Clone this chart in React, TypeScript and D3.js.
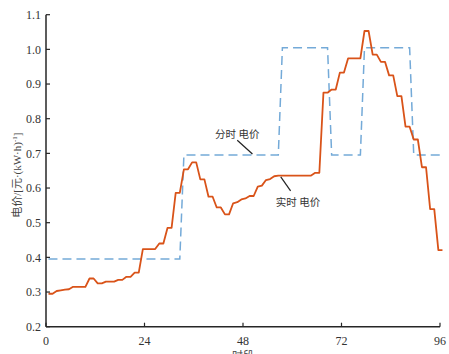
import React from "react";
import * as d3 from "d3";

// 97 time slots, drawn at slot + 0.6 on the axis
const slotOffset = 0.6;

// real-time price, one value per slot
const realPrice = [
  0.295, 0.295, 0.303, 0.305, 0.307, 0.308, 0.315, 0.315, 0.315, 0.315,
  0.339, 0.339, 0.325, 0.325, 0.33, 0.33, 0.33, 0.335, 0.335, 0.344,
  0.344, 0.356, 0.356, 0.424, 0.424, 0.424, 0.424, 0.44, 0.44, 0.485,
  0.485, 0.586, 0.586, 0.654, 0.654, 0.674, 0.674, 0.625, 0.625, 0.575,
  0.575, 0.544, 0.544, 0.524, 0.524, 0.556, 0.559, 0.567, 0.57, 0.577,
  0.577, 0.604, 0.607, 0.623, 0.626, 0.634, 0.636, 0.636, 0.636, 0.636,
  0.636, 0.636, 0.636, 0.636, 0.636, 0.644, 0.644, 0.875, 0.875, 0.884,
  0.884, 0.933, 0.933, 0.974, 0.974, 0.974, 0.974, 1.053, 1.053, 0.985,
  0.985, 0.964, 0.964, 0.925, 0.925, 0.865, 0.865, 0.777, 0.777, 0.74,
  0.74, 0.66, 0.66, 0.539, 0.539, 0.421, 0.421,
];

// time-of-use price bands: [first slot, last slot, price]
const touBands: [number, number, number][] = [
  [0, 32, 0.395],
  [33, 56, 0.695],
  [57, 68, 1.005],
  [69, 76, 0.695],
  [77, 88, 1.005],
  [89, 96, 0.695],
];
const touPrice = realPrice.map((_, i) => {
  const b = touBands.find((d) => i >= d[0] && i <= d[1]);
  return b ? b[2] : 0.695;
});

const xTicks = [0, 24, 48, 72, 96];
const yTicks = [0.2, 0.3, 0.4, 0.5, 0.6, 0.7, 0.8, 0.9, 1.0, 1.1];

const W = 449;
const H = 354;
const serif = "'Liberation Serif', 'Times New Roman', Times, serif";
const cjk = "'Noto Sans CJK SC', sans-serif";

export default function App() {
  const x = d3.scaleLinear().domain([0, 96]).range([46, 440]);
  const y = d3.scaleLinear().domain([0.2, 1.1]).range([326.7, 14.7]);

  const line = d3
    .line<number>()
    .x((_, i) => x(i + slotOffset))
    .y((d) => y(d));

  const axisColor = "#262626";
  const x0 = x(0);
  const yb = y(0.2);

  return (
    <svg
      width={W}
      height={H}
      style={{ position: "absolute", left: 0, top: 0, background: "#fff" }}
    >
      {/* time-of-use price */}
      <path
        d={line(touPrice) || ""}
        fill="none"
        stroke="#74aad8"
        strokeWidth={1.5}
        strokeDasharray="9,5"
      />
      {/* real-time price */}
      <path
        d={line(realPrice) || ""}
        fill="none"
        stroke="#d95319"
        strokeWidth={1.8}
        strokeLinejoin="round"
      />

      {/* axes */}
      <line x1={x0} x2={x0} y1={y(1.1)} y2={yb} stroke={axisColor} strokeWidth={1.5} />
      <line x1={x0} x2={x(96)} y1={yb} y2={yb} stroke={axisColor} strokeWidth={1.5} />
      <g style={{ fontFamily: serif, fontSize: 12 }} fill="#333">
        {yTicks.map((t) => (
          <g key={"y" + t}>
            <line x1={x0} x2={x0 + 4} y1={y(t)} y2={y(t)} stroke={axisColor} strokeWidth={1.2} />
            <text x={x0 - 5} y={y(t)} dy="0.35em" textAnchor="end">
              {t.toFixed(1)}
            </text>
          </g>
        ))}
        {xTicks.map((t) => (
          <g key={"x" + t}>
            <line x1={x(t)} x2={x(t)} y1={yb} y2={yb - 4} stroke={axisColor} strokeWidth={1.2} />
            <text x={x(t)} y={yb + 18} textAnchor="middle">
              {t}
            </text>
          </g>
        ))}
      </g>

      {/* axis titles */}
      <text
        transform={`translate(21,${y(0.637)}) rotate(-90)`}
        textAnchor="middle"
        style={{ fontFamily: serif, fontSize: 11 }}
        fill="#444"
      >
        <tspan style={{ fontFamily: cjk }}>电价</tspan>/[<tspan style={{ fontFamily: cjk }}>元</tspan>·(kW·h)
        <tspan dy={-4} fontSize={7}>-1</tspan>
        <tspan dy={4}>]</tspan>
      </text>
      <text x={x(48)} y={360} textAnchor="middle" style={{ fontFamily: cjk, fontSize: 11 }} fill="#444">
        时段
      </text>

      {/* annotations */}
      <text x={x(41.2)} y={y(0.745)} style={{ fontFamily: cjk, fontSize: 10.5 }} fill="#333">
        分时 电价
      </text>
      <line x1={x(46.6)} y1={y(0.738)} x2={x(50.3)} y2={y(0.698)} stroke="#222" strokeWidth={1.2} />
      <text x={x(56.0)} y={y(0.549)} style={{ fontFamily: cjk, fontSize: 10.5 }} fill="#333">
        实时 电价
      </text>
      <line x1={x(57.2)} y1={y(0.632)} x2={x(59.6)} y2={y(0.592)} stroke="#222" strokeWidth={1.2} />
    </svg>
  );
}
